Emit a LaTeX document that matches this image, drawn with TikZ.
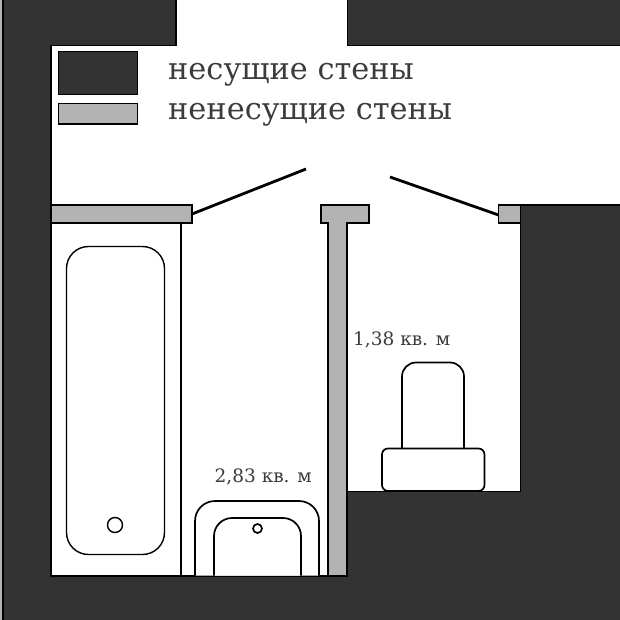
\documentclass[tikz,border=0pt]{standalone}
\usepackage{fontspec}
\setmainfont{DejaVu Serif}
\usepackage{xcolor}
\definecolor{wallbear}{HTML}{333333}
\definecolor{wallthin}{HTML}{B3B3B3}
\definecolor{labelgray}{HTML}{3C3C3C}
\tikzset{
	bearing/.style={draw=black,line width=1.7pt,fill=wallbear},
	partition/.style={draw=black,line width=1.7pt,fill=wallthin},
	fixture/.style={draw=black,line width=1.7pt,fill=white},
	door/.style={draw=black,line width=2.8pt},
	legendtext/.style={anchor=base west,inner sep=0pt,text=labelgray,font=\fontsize{30.4}{31}\selectfont},
	arealabel/.style={anchor=base west,inner sep=0pt,text=labelgray,font=\fontsize{18.5}{20}\selectfont}
}
\begin{document}
\begin{tikzpicture}[x=1pt,y=-1pt]
	\useasboundingbox (0,0) rectangle (620,620);
	\fill[wallthin] (0,0) rectangle (3,620);
	% walls
	\draw[bearing] (3,-3) -- (176,-3) -- (176,45.5) -- (51,45.5) -- (51,576) -- (347,576) -- (347,491.5) -- (520.5,491.5) -- (520.5,205) -- (623,205) -- (623,623) -- (3,623) -- cycle;
	\draw[bearing] (347.5,-3) rectangle (623,45.5);
	\draw[partition] (51,205) rectangle (192,223);
	\draw[partition] (321,205) -- (369,205) -- (369,223) -- (347,223) -- (347,576) -- (328,576) -- (328,223) -- (321,223) -- cycle;
	\draw[partition] (498.5,205) rectangle (520.5,223);
	\draw[line width=1.3pt] (181,223) -- (181,576);
	% door leaves
	\coordinate (leafl) at (192,214);
	\coordinate (leaflend) at (306,169);
	\coordinate (leafr) at (498.5,215);
	\coordinate (leafrend) at (390,177);
	\draw[door] (leafl) -- (leaflend);
	\draw[door] (leafr) -- (leafrend);
	% legend
	\draw[bearing] (58.5,51.5) rectangle (137.5,94.5);
	\draw[partition] (58.5,103.5) rectangle (137.5,124);
	\node[legendtext] (legendbear) at (168,80) {несущие стены};
	\node[legendtext] (legendthin) at (168,120) {ненесущие стены};
	% bath
	\draw[fixture,line width=1.4pt,rounded corners=22pt] (66.5,246.5) rectangle (164.5,554.5);
	\draw[fixture,line width=1.4pt] (115,525) circle[radius=7.5];
	% sink
	\draw[fixture,rounded corners=20pt] (195,575.5) -- (195,501) -- (319,501) -- (319,575.5);
	\draw[fixture,rounded corners=18pt] (214,575.5) -- (214,518) -- (301,518) -- (301,575.5);
	\draw[fixture] (257.5,528.5) circle[radius=4.5];
	% toilet
	\draw[fixture,rounded corners=14pt] (402,449) -- (402,362.5) -- (464,362.5) -- (464,449);
	\draw[fixture,rounded corners=6pt] (382,448.5) rectangle (484.5,491);
	% areas
	\node[arealabel] (areabath) at (214.5,482.5) {2,83 кв. м};
	\node[arealabel] (areawc) at (353,345) {1,38 кв. м};
\end{tikzpicture}
\end{document}
